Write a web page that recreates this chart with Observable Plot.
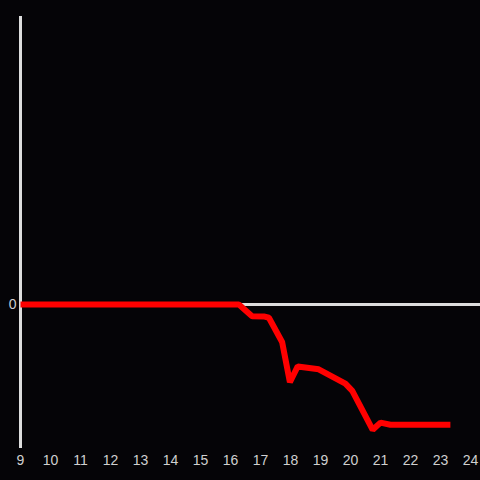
<!DOCTYPE html>
<html><head><meta charset="utf-8">
<script src="https://cdn.jsdelivr.net/npm/d3@7"></script>
<script src="https://cdn.jsdelivr.net/npm/@observablehq/plot@0.6"></script>
<style>
html,body{margin:0;padding:0;background:#050407;}
</style>
</head><body>
<div id="chart"></div>
<script>
const xs = [9, 10, 11, 12, 13, 14, 15, 16, 16.28, 16.72, 17.11, 17.28, 17.72, 17.98, 18.24, 18.94, 19.83, 20.06, 20.74, 21.0, 21.33, 22, 23, 23.33];
const ys = [0, 0, 0, 0, 0, 0, 0, 0, 0, -0.081, -0.083, -0.092, -0.26, -0.54, -0.43, -0.45, -0.55, -0.60, -0.87, -0.82, -0.835, -0.835, -0.835, -0.835];
const xTicks = [9, 10, 11, 12, 13, 14, 15, 16, 17, 18, 19, 20, 21, 22, 23, 24];
const yTicks = [0];

const data = xs.map((x, i) => ({x, y: ys[i]}));

const chart = Plot.plot({
  width: 480,
  height: 480,
  marginLeft: 20,
  marginRight: 0,
  marginTop: 16,
  marginBottom: 32,
  style: {background: "#050407", color: "#d0d0d0", fontFamily: "Liberation Sans, Arial, sans-serif", fontSize: "14px"},
  x: {domain: [9, 24 + 1/3], ticks: xTicks, tickFormat: d => String(d), tickSize: 0, tickPadding: 7, label: null},
  y: {domain: [-1, 2], ticks: yTicks, tickFormat: d => String(d), tickSize: 0, tickPadding: 4, label: null},
  marks: [
    Plot.ruleY(yTicks, {stroke: "#dddddd", strokeWidth: 3}),
    Plot.ruleX([9], {stroke: "#dddddd", strokeWidth: 3}),
    Plot.line(data, {x: "x", y: "y", stroke: "#ff0000", strokeWidth: 6, strokeLinejoin: "miter", strokeLinecap: "butt"})
  ]
});
document.getElementById("chart").appendChild(chart);
</script>
</body></html>
